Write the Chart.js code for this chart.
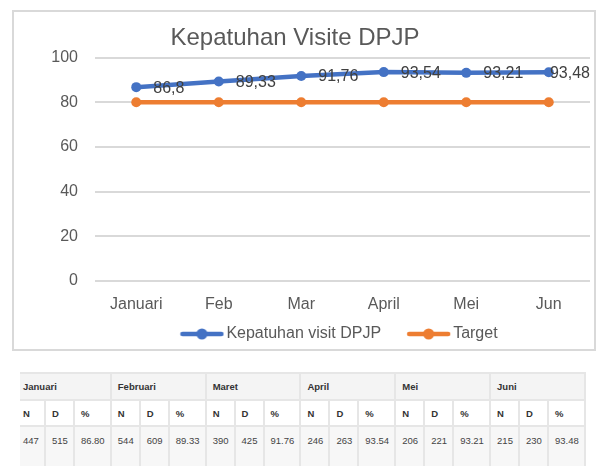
<!DOCTYPE html>
<html>
<head>
<meta charset="utf-8">
<script src="https://cdn.jsdelivr.net/npm/chart.js@4"></script>
<style>
    body { margin: 0; background: #fff; width: 609px; height: 466px; overflow: hidden; position: relative; font-family: "Liberation Sans", Arial, sans-serif; }
    #chart-wrap { position: absolute; left: 0; top: 0; width: 609px; height: 352px; }
    #frame { position: absolute; left: 12px; top: 10px; width: 584px; height: 341px; border: 2px solid #d9d9d9; box-sizing: border-box; pointer-events: none; }
    #table-wrap { position: absolute; left: 20px; top: 372px; width: 566px; height: 94px; overflow: hidden; }
    #data-table { border-collapse: collapse; margin-left: -5px; table-layout: fixed; font-size: 9.5px; color: #333; }
    #data-table td { border: 2px solid #e6e6e6; padding: 0 0 0 6px; white-space: nowrap; }
    #data-table tr.month td { background: #f4f4f4; height: 25px; font-weight: bold; }
    #data-table tr.cols td { background: #fff; height: 24px; font-weight: bold; }
    #data-table tr.vals td { background: #f7f7f7; height: 50px; vertical-align: top; padding-top: 8px; color: #444; }
</style>
</head>
<body>
<div id="chart-wrap"><canvas id="visite-chart" width="609" height="352"></canvas></div>
<div id="frame"></div>
<div id="table-wrap"><table id="data-table"></table></div>

<script>
// Chart data
const months = ['Januari', 'Feb', 'Mar', 'April', 'Mei', 'Jun'];
const kepatuhan = [86.8, 89.33, 91.76, 93.54, 93.21, 93.48];
const target = [80, 80, 80, 80, 80, 80];
const yTicks = [0, 20, 40, 60, 80, 100];

// Table data
const tableMonths = ['Januari', 'Februari', 'Maret', 'April', 'Mei', 'Juni'];
const nValues = [447, 544, 390, 246, 206, 215];
const dValues = [515, 609, 425, 263, 221, 230];
const pctValues = ['86.80', '89.33', '91.76', '93.54', '93.21', '93.48'];

const FONT = '"Liberation Sans", Arial, sans-serif';

// Legend marker: line with a dot, drawn into a small canvas
function makeMarker(color) {
    const c = document.createElement('canvas');
    c.width = 66;
    c.height = 14;
    const g = c.getContext('2d');
    g.strokeStyle = color;
    g.lineWidth = 4.5;
    g.lineCap = 'round';
    g.beginPath();
    g.moveTo(24, 7);
    g.lineTo(63, 7);
    g.stroke();
    g.fillStyle = color;
    g.beginPath();
    g.arc(43.5, 7, 5.5, 0, Math.PI * 2);
    g.fill();
    return c;
}

// Value labels next to the blue points (comma decimals like the original)
const valueLabels = {
    id: 'valueLabels',
    afterDatasetsDraw(chart) {
        const ctx = chart.ctx;
        const meta = chart.getDatasetMeta(0);
        ctx.save();
        ctx.font = '16px ' + FONT;
        ctx.fillStyle = '#404040';
        ctx.textAlign = 'left';
        ctx.textBaseline = 'middle';
        meta.data.forEach((pt, i) => {
            const txt = String(kepatuhan[i]).replace('.', ',');
            const w = ctx.measureText(txt).width;
            const x = Math.min(pt.x + 17, chart.chartArea.right - w);
            ctx.fillText(txt, x, pt.y + 1);
        });
        ctx.restore();
    }
};

// Legend sits under the plot area, a bit right of the canvas centre
const legendShift = {
    id: 'legendShift',
    afterLayout(chart) {
        if (chart.legend) {
            chart.legend.left += 36;
            chart.legend.right += 36;
        }
    }
};

function buildTable() {
    const table = document.getElementById('data-table');
    let colgroup = '<colgroup>';
    tableMonths.forEach(() => {
        colgroup += '<col style="width:29px"><col style="width:29px"><col style="width:37px">';
    });
    colgroup += '</colgroup>';

    let monthRow = '<tr class="month">';
    let colRow = '<tr class="cols">';
    let valRow = '<tr class="vals">';
    tableMonths.forEach((m, i) => {
        monthRow += `<td colspan="3">${m}</td>`;
        colRow += '<td>N</td><td>D</td><td>%</td>';
        valRow += `<td>${nValues[i]}</td><td>${dValues[i]}</td><td>${pctValues[i]}</td>`;
    });
    table.innerHTML = colgroup + monthRow + '</tr>' + colRow + '</tr>' + valRow + '</tr>';
}

function renderChart() {
    const canvas = document.getElementById('visite-chart');
    const blue = '#4472C4';
    const orange = '#ED7D31';
    const markers = [makeMarker(blue), makeMarker(orange)];

    new Chart(canvas, {
        type: 'line',
        data: {
            labels: months,
            datasets: [
                {
                    label: 'Kepatuhan visit DPJP',
                    data: kepatuhan,
                    borderColor: blue,
                    backgroundColor: blue,
                    borderWidth: 4.5,
                    pointRadius: 5,
                    pointHoverRadius: 5,
                    pointBorderWidth: 0,
                    tension: 0
                },
                {
                    label: 'Target',
                    data: target,
                    borderColor: orange,
                    backgroundColor: orange,
                    borderWidth: 4.5,
                    pointRadius: 5,
                    pointHoverRadius: 5,
                    pointBorderWidth: 0,
                    tension: 0
                }
            ]
        },
        options: {
            responsive: false,
            animation: false,
            layout: { padding: { left: 0, right: 19, top: 0, bottom: 0 } },
            plugins: {
                title: {
                    display: true,
                    text: 'Kepatuhan Visite DPJP',
                    color: '#595959',
                    font: { family: FONT, size: 24, weight: 'normal' },
                    padding: { top: 23.6, bottom: 5.3 }
                },
                legend: {
                    position: 'bottom',
                    labels: {
                        usePointStyle: true,
                        pointStyleWidth: 54,
                        boxHeight: 12,
                        padding: 10,
                        color: '#595959',
                        font: { family: FONT, size: 16 },
                        generateLabels(chart) {
                            return chart.data.datasets.map((ds, i) => ({
                                text: ds.label,
                                pointStyle: markers[i],
                                fillStyle: ds.borderColor,
                                strokeStyle: ds.borderColor,
                                lineWidth: 0,
                                fontColor: '#595959',
                                datasetIndex: i,
                                hidden: false
                            }));
                        }
                    }
                },
                tooltip: { enabled: false }
            },
            scales: {
                x: {
                    offset: true,
                    afterFit(scale) { scale.height = 35.3; },
                    grid: { display: false, drawTicks: false },
                    border: { display: false },
                    ticks: {
                        color: '#595959',
                        padding: 14.5,
                        font: { family: FONT, size: 16 }
                    }
                },
                y: {
                    min: 0,
                    max: 100,
                    afterFit(scale) { scale.width = 95; },
                    afterBuildTicks(scale) { scale.ticks = yTicks.map(v => ({ value: v })); },
                    grid: { color: '#d9d9d9', lineWidth: 2, drawTicks: false },
                    border: { display: false },
                    ticks: {
                        color: '#595959',
                        padding: 17,
                        font: { family: FONT, size: 16 }
                    }
                }
            }
        },
        plugins: [valueLabels, legendShift]
    });
}

document.addEventListener('DOMContentLoaded', () => {
    buildTable();
    renderChart();
});
</script>
</body>
</html>
